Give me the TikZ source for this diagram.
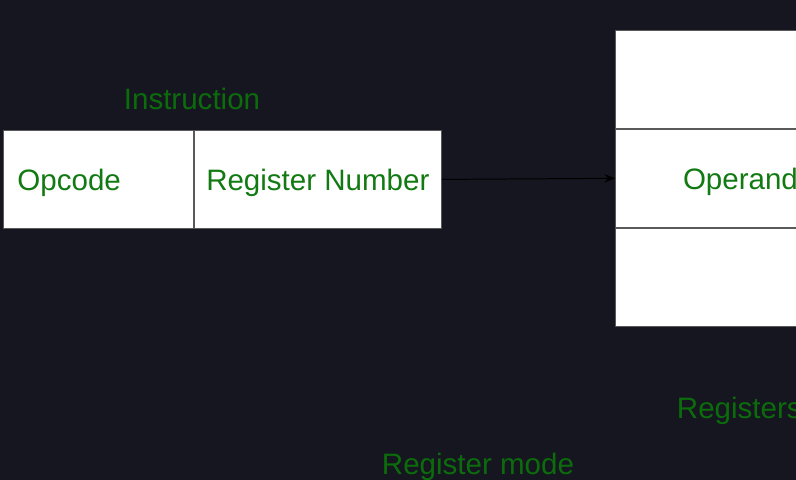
\documentclass[tikz,border=0pt]{standalone}
\usepackage{fontspec}
\setmainfont{Liberation Sans}
\usetikzlibrary{arrows.meta}
\definecolor{bgdark}{RGB}{21,22,32}
\definecolor{txtgreen}{RGB}{18,122,18}
\definecolor{lblgreen}{RGB}{12,108,12}
\begin{document}
\begin{tikzpicture}[x=0.025cm, y=-0.025cm, font=\fontsize{21}{25}\selectfont, line join=round, >={Stealth[length=7.5pt,width=6pt]},
  cell/.style={draw=black!65, fill=white, line width=0.6pt, text=txtgreen, inner sep=0pt,
    minimum height=2.45cm, text depth=0pt, anchor=north west},
  lbl/.style={text=lblgreen}]
\def\W{796} \def\H{480}
\fill[bgdark] (0,0) rectangle (\W,\H);
\useasboundingbox (0,0) rectangle (\W,\H);
\clip (0,0) rectangle (\W,\H);
% instruction
\node[cell, minimum width=4.75cm, text width=4.05cm, align=left, inner xsep=0.35cm] (opcode) at (3,130) {Opcode};
\node[cell, minimum width=6.175cm] (regnum) at (opcode.north east) {Register Number};
\node[lbl] (instr) at (192,99) {Instruction};
% registers
\node[cell, minimum width=6.175cm] (regtop) at (615,30) {};
\node[cell, minimum width=6.2cm] (operand) at (regtop.south west) {\hspace*{0.05cm}Operand};
\node[cell, minimum width=6.175cm] (regbot) at (operand.south west) {};
\node[lbl, anchor=west] (regs) at (672,411) {Registers};
\draw[->, line width=0.7pt] (regnum.east) -- (operand.west);
\node[lbl] (mode) at (478,467) {Register mode};
\end{tikzpicture}
\end{document}
